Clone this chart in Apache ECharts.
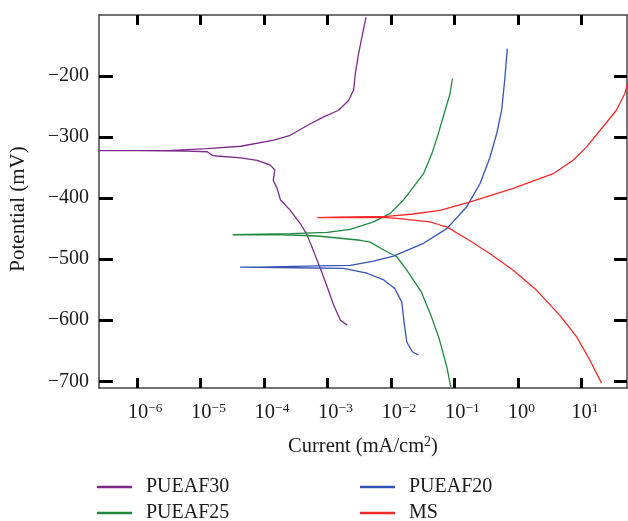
<!DOCTYPE html>
<html>
<head>
<meta charset="utf-8">
<script src="https://cdn.jsdelivr.net/npm/echarts@6/dist/echarts.min.js"></script>
<style>
html,body{margin:0;padding:0;background:#fff;}
#chart{width:628px;height:521px;}
</style>
</head>
<body>
<div id="chart"></div>
<script>
// ---- data (current in mA/cm^2, potential in mV) ----
const seriesNames = ['PUEAF30', 'PUEAF25', 'PUEAF20', 'MS'];

const pueaf30Current = [4.05e-3, 3.5e-3, 3.1e-3, 2.75e-3, 2.58e-3, 2.15e-3, 1.5e-3, 8.7e-4, 4.8e-4, 2.6e-4, 1.43e-4, 4.3e-5, 1.28e-5, 3.0e-6, 6.3e-7, 1.5e-7, 1.0e-6, 6.0e-6, 1.28e-5, 1.53e-5, 1.84e-5, 4.3e-5, 7.8e-5, 1.26e-4, 1.48e-4, 1.40e-4, 1.61e-4, 1.82e-4, 2.6e-4, 3.75e-4, 4.8e-4, 6.1e-4, 7.7e-4, 9.9e-4, 1.25e-3, 1.6e-3, 2.03e-3];
const pueaf30Potential = [-104, -136, -163, -196, -223, -240, -256, -267, -281, -297, -305, -315, -319, -322, -322, -322, -322, -323, -324, -330, -331, -334, -338, -346, -354, -371, -384, -403, -420, -442, -461, -488, -515, -545, -575, -600, -608];

const pueaf25Current = [0.0931, 0.0855, 0.0714, 0.056, 0.0442, 0.0326, 0.0226, 0.0158, 0.00975, 0.00532, 0.00229, 9.9e-4, 2.6e-4, 3.2e-5, 1.93e-4, 6.9e-4, 3.3e-3, 4.7e-3, 7.7e-3, 0.0124, 0.0178, 0.0299, 0.0427, 0.0575, 0.0759, 0.0877];
const pueaf25Potential = [-204, -229, -256, -294, -327, -360, -382, -403, -425, -439, -451, -456, -458, -460, -460, -462, -469, -472, -485, -496, -518, -553, -592, -630, -676, -709];

const pueaf20Current = [0.682, 0.627, 0.556, 0.465, 0.364, 0.254, 0.157, 0.0759, 0.0326, 0.011, 5.32e-3, 2.29e-3, 6.9e-4, 8.3e-5, 4.2e-5, 3.0e-4, 1.8e-3, 4.2e-3, 7.7e-3, 0.0115, 0.0148, 0.0162, 0.0178, 0.0219, 0.0272];
const pueaf20Potential = [-155, -202, -256, -294, -333, -376, -414, -450, -474, -495, -503, -510, -511, -513, -513, -514, -515, -523, -534, -548, -570, -605, -636, -652, -657];

const msCurrent = [60, 54.5, 48.3, 35.7, 22.0, 12.1, 7.43, 3.61, 0.847, 0.178, 0.0596, 0.0226, 8.6e-3, 1.25e-3, 6.9e-4, 8.6e-3, 0.0124, 0.0226, 0.0415, 0.0596, 0.0759, 0.171, 0.364, 0.847, 1.98, 4.59, 8.41, 13.6, 20.8];
const msPotential = [-190, -210, -229, -256, -283, -316, -338, -360, -384, -406, -420, -426, -430, -431, -432, -432, -433, -436, -439, -444, -447, -469, -491, -518, -551, -592, -627, -665, -703];

// tick labels
const xTickExponents = [-6, -5, -4, -3, -2, -1, 0, 1];
const yTickValues = [-700, -600, -500, -400, -300, -200];

// ---- chart ----
const FONT = "'Liberation Serif', 'DejaVu Serif', serif";
const TXT = '#1a1a1a';
const colors = ['#7b2b88', '#1f8a3e', '#3554b5', '#f22a2a'];
const currents = [pueaf30Current, pueaf25Current, pueaf20Current, msCurrent];
const potentials = [pueaf30Potential, pueaf25Potential, pueaf20Potential, msPotential];

function pairs(cur, pot) {
  return cur.map((c, i) => [Math.log10(c), pot[i]]);
}

const X_MIN = -6.6, X_MAX = 1.72, Y_MIN = -711, Y_MAX = -100;

function axisLineStyle() { return { show: true, onZero: false, lineStyle: { color: '#444', width: 1.5 } }; }

function xAxisDef(pos, showLabels) {
  return {
    type: 'value', position: pos, min: X_MIN, max: X_MAX,
    axisLine: axisLineStyle(),
    splitLine: { show: false },
    axisTick: { show: true, inside: true, length: 10, customValues: xTickExponents, lineStyle: { color: '#000', width: 3 } },
    axisLabel: {
      show: showLabels, customValues: xTickExponents, margin: 13,
      formatter: function (v) {
        const e = Math.round(v);
        const sup = e < 0 ? '\u2212' + Math.abs(e) : String(e);
        return (e < 0 ? '{pn|}' : '{pp|}') + '{b|10}{s|' + sup + '}';
      },
      rich: {
        pn: { width: 16, fontSize: 20, lineHeight: 24 },
        pp: { width: 7, fontSize: 20, lineHeight: 24 },
        b: { fontFamily: FONT, fontSize: 20.5, color: TXT, lineHeight: 24 },
        s: { fontFamily: FONT, fontSize: 13.5, color: TXT, lineHeight: 13, verticalAlign: 'top' }
      }
    }
  };
}
function yAxisDef(pos, showLabels, tickLen) {
  return {
    type: 'value', position: pos, min: Y_MIN, max: Y_MAX,
    axisLine: axisLineStyle(),
    splitLine: { show: false },
    axisTick: { show: true, inside: true, length: tickLen, customValues: yTickValues, lineStyle: { color: '#000', width: 3 } },
    axisLabel: {
      show: showLabels, customValues: yTickValues, margin: 10,
      fontFamily: FONT, fontSize: 20, color: TXT,
      formatter: v => (v < 0 ? '\u2212' : '') + Math.abs(v)
    }
  };
}

const xBottom = xAxisDef('bottom', true);
xBottom.name = '{t|Current (mA/cm}{sup|2}{t|)}';
xBottom.nameLocation = 'middle';
xBottom.nameGap = 47;
xBottom.nameTextStyle = {
  fontFamily: FONT, fontSize: 20.5, color: TXT,
  rich: {
    t: { fontFamily: FONT, fontSize: 20.5, color: TXT, lineHeight: 24 },
    sup: { fontFamily: FONT, fontSize: 14, color: TXT, lineHeight: 14, verticalAlign: 'top' }
  }
};
const xTop = xAxisDef('top', false);

const yLeft = yAxisDef('left', true, 14);
yLeft.name = 'Potential (mV)';
yLeft.nameLocation = 'middle';
yLeft.nameGap = 70;
yLeft.nameTextStyle = { fontFamily: FONT, fontSize: 21, color: TXT, padding: [0, 15, 0, 0] };
const yRight = yAxisDef('right', false, 13);

function legendFor(name, left, top) {
  return {
    left: left, top: top, padding: 0, itemWidth: 35, itemHeight: 2.5, itemGap: 0,
    icon: 'rect', data: [name],
    formatter: n => '{n|' + n + '}',
    textStyle: {
      fontFamily: FONT, fontSize: 20, color: TXT, lineHeight: 20,
      rich: { n: { fontFamily: FONT, fontSize: 20, color: TXT, lineHeight: 20, padding: [0, 0, 0, 9] } }
    }
  };
}

const option = {
  animation: false,
  backgroundColor: '#fff',
  grid: { left: 98, top: 15, right: 1, bottom: 133, containLabel: false },
  xAxis: [xBottom, xTop],
  yAxis: [yLeft, yRight],
  legend: [
    legendFor('PUEAF30', 97, 477),
    legendFor('PUEAF25', 97, 503),
    legendFor('PUEAF20', 360, 477),
    legendFor('MS', 360, 503)
  ],
  series: seriesNames.map((n, i) => ({
    name: n, type: 'line', xAxisIndex: 0, yAxisIndex: 0,
    data: pairs(currents[i], potentials[i]),
    showSymbol: false, symbol: 'none', clip: true,
    lineStyle: { color: colors[i], width: 1.3 },
    itemStyle: { color: colors[i] }
  }))
};

const chart = echarts.init(document.getElementById('chart'), null, { renderer: 'canvas' });
chart.setOption(option);
</script>
</body>
</html>
